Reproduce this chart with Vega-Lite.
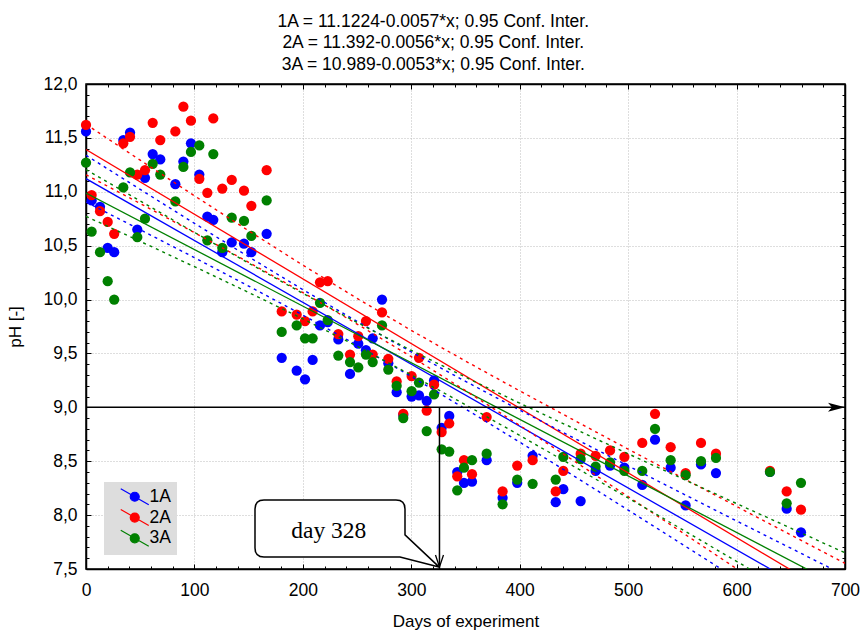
{
  "$schema": "https://vega.github.io/schema/vega-lite/v6.json",
  "width": 759,
  "height": 485,
  "autosize": {"type": "none"},
  "padding": {"left": 86, "top": 84, "right": 15, "bottom": 62},
  "background": "white",
  "config": {
    "view": {"stroke": "#000", "strokeWidth": 1.5},
    "font": "Liberation Sans",
    "axis": {
      "labelFont": "Liberation Sans", "labelFontSize": 17.5, "labelColor": "#000",
      "titleFont": "Liberation Sans", "titleFontSize": 17, "titleFontWeight": "normal", "titleColor": "#000",
      "domainColor": "#000", "domainWidth": 1.5, "tickColor": "#000", "tickWidth": 1,
      "gridColor": "#bdbdbd", "gridDash": [1, 2], "gridWidth": 1
    }
  },
  "title": {
    "text": ["1A = 11.1224-0.0057*x; 0.95 Conf. Inter.", "2A = 11.392-0.0056*x; 0.95 Conf. Inter.", "3A = 10.989-0.0053*x; 0.95 Conf. Inter."],
    "font": "Liberation Sans", "fontSize": 17.5, "fontWeight": "normal", "color": "#000",
    "anchor": "middle", "frame": "bounds", "lineHeight": 21.5, "offset": 2
  },
  "datasets": {
    "pts": [
      {"s":"1A","d":0,"p":11.56},{"s":"1A","d":5.2,"p":10.92},{"s":"1A","d":12.9,"p":10.86},{"s":"1A","d":20,"p":10.48},{"s":"1A","d":26,"p":10.44},
      {"s":"1A","d":34.4,"p":11.48},{"s":"1A","d":40.6,"p":11.55},{"s":"1A","d":47.3,"p":10.65},{"s":"1A","d":54.4,"p":11.13},{"s":"1A","d":61.5,"p":11.35},
      {"s":"1A","d":68.5,"p":11.30},{"s":"1A","d":82.4,"p":11.07},{"s":"1A","d":89.8,"p":11.28},{"s":"1A","d":96.8,"p":11.45},{"s":"1A","d":104.5,"p":11.16},
      {"s":"1A","d":111.9,"p":10.77},{"s":"1A","d":117.4,"p":10.74},{"s":"1A","d":125.7,"p":10.44},{"s":"1A","d":134.4,"p":10.53},{"s":"1A","d":145.7,"p":10.52},
      {"s":"1A","d":152.5,"p":10.44},{"s":"1A","d":166.6,"p":10.61},{"s":"1A","d":180.5,"p":9.46},{"s":"1A","d":194.3,"p":9.34},{"s":"1A","d":202,"p":9.26},
      {"s":"1A","d":209,"p":9.44},{"s":"1A","d":215.8,"p":9.76},{"s":"1A","d":222.9,"p":9.79},{"s":"1A","d":232.7,"p":9.63},{"s":"1A","d":243.5,"p":9.31},
      {"s":"1A","d":251.1,"p":9.59},{"s":"1A","d":258.2,"p":9.53},{"s":"1A","d":264.4,"p":9.64},{"s":"1A","d":273,"p":10.00},{"s":"1A","d":278.8,"p":9.41},
      {"s":"1A","d":286.5,"p":9.14},{"s":"1A","d":292.6,"p":8.93},{"s":"1A","d":300.3,"p":9.10},{"s":"1A","d":307.1,"p":9.11},{"s":"1A","d":314.2,"p":9.06},
      {"s":"1A","d":321,"p":9.25},{"s":"1A","d":328,"p":8.81},{"s":"1A","d":335,"p":8.92},{"s":"1A","d":342.4,"p":8.40},{"s":"1A","d":348.6,"p":8.30},
      {"s":"1A","d":356,"p":8.31},{"s":"1A","d":369.5,"p":8.51},{"s":"1A","d":384.2,"p":8.16},{"s":"1A","d":397.7,"p":8.30},{"s":"1A","d":411.9,"p":8.55},
      {"s":"1A","d":433.2,"p":8.12},{"s":"1A","d":440.2,"p":8.24},{"s":"1A","d":456.2,"p":8.13},{"s":"1A","d":470,"p":8.41},{"s":"1A","d":483.3,"p":8.46},
      {"s":"1A","d":496.5,"p":8.44},{"s":"1A","d":513,"p":8.28},{"s":"1A","d":524.8,"p":8.70},{"s":"1A","d":539.2,"p":8.44},{"s":"1A","d":553,"p":8.09},
      {"s":"1A","d":567.2,"p":8.47},{"s":"1A","d":581,"p":8.39},{"s":"1A","d":630.8,"p":8.40},{"s":"1A","d":646.2,"p":8.06},{"s":"1A","d":659.4,"p":7.84},
      {"s":"2A","d":0,"p":11.62},{"s":"2A","d":5.2,"p":10.97},{"s":"2A","d":12.9,"p":10.82},{"s":"2A","d":20,"p":10.72},{"s":"2A","d":26,"p":10.61},
      {"s":"2A","d":34.4,"p":11.45},{"s":"2A","d":40.6,"p":11.51},{"s":"2A","d":47.3,"p":11.16},{"s":"2A","d":54.4,"p":11.20},{"s":"2A","d":61.5,"p":11.64},
      {"s":"2A","d":68.5,"p":11.48},{"s":"2A","d":82.4,"p":11.56},{"s":"2A","d":89.8,"p":11.79},{"s":"2A","d":96.8,"p":11.66},{"s":"2A","d":104.5,"p":11.12},
      {"s":"2A","d":111.9,"p":10.99},{"s":"2A","d":117.4,"p":11.68},{"s":"2A","d":125.7,"p":11.03},{"s":"2A","d":134.4,"p":11.11},{"s":"2A","d":145.7,"p":11.01},
      {"s":"2A","d":152.5,"p":10.87},{"s":"2A","d":166.6,"p":11.20},{"s":"2A","d":180.5,"p":9.89},{"s":"2A","d":194.3,"p":9.86},{"s":"2A","d":202,"p":9.80},
      {"s":"2A","d":209,"p":9.89},{"s":"2A","d":215.8,"p":10.16},{"s":"2A","d":222.9,"p":10.17},{"s":"2A","d":232.7,"p":9.68},{"s":"2A","d":243.5,"p":9.49},
      {"s":"2A","d":251.1,"p":9.66},{"s":"2A","d":258.2,"p":9.80},{"s":"2A","d":264.4,"p":9.49},{"s":"2A","d":273,"p":9.88},{"s":"2A","d":278.8,"p":9.45},
      {"s":"2A","d":286.5,"p":9.24},{"s":"2A","d":292.6,"p":8.94},{"s":"2A","d":300.3,"p":9.29},{"s":"2A","d":307.1,"p":9.46},{"s":"2A","d":314.2,"p":8.97},
      {"s":"2A","d":321,"p":9.21},{"s":"2A","d":328,"p":8.77},{"s":"2A","d":335,"p":8.85},{"s":"2A","d":342.4,"p":8.36},{"s":"2A","d":348.6,"p":8.51},
      {"s":"2A","d":356,"p":8.38},{"s":"2A","d":369.5,"p":8.91},{"s":"2A","d":384.2,"p":8.22},{"s":"2A","d":397.7,"p":8.46},{"s":"2A","d":411.9,"p":8.51},
      {"s":"2A","d":433.2,"p":8.22},{"s":"2A","d":440.2,"p":8.41},{"s":"2A","d":456.2,"p":8.57},{"s":"2A","d":470,"p":8.55},{"s":"2A","d":483.3,"p":8.60},
      {"s":"2A","d":496.5,"p":8.54},{"s":"2A","d":513,"p":8.67},{"s":"2A","d":524.8,"p":8.94},{"s":"2A","d":539.2,"p":8.63},{"s":"2A","d":553,"p":8.39},
      {"s":"2A","d":567.2,"p":8.67},{"s":"2A","d":581,"p":8.57},{"s":"2A","d":630.8,"p":8.41},{"s":"2A","d":646.2,"p":8.22},{"s":"2A","d":659.4,"p":8.05},
      {"s":"3A","d":0,"p":11.27},{"s":"3A","d":5.2,"p":10.63},{"s":"3A","d":12.9,"p":10.44},{"s":"3A","d":20,"p":10.17},{"s":"3A","d":26,"p":10.00},
      {"s":"3A","d":34.4,"p":11.04},{"s":"3A","d":40.6,"p":11.18},{"s":"3A","d":47.3,"p":10.58},{"s":"3A","d":54.4,"p":10.75},{"s":"3A","d":61.5,"p":11.26},
      {"s":"3A","d":68.5,"p":11.16},{"s":"3A","d":82.4,"p":10.91},{"s":"3A","d":89.8,"p":11.23},{"s":"3A","d":96.8,"p":11.37},{"s":"3A","d":104.5,"p":11.43},
      {"s":"3A","d":111.9,"p":10.55},{"s":"3A","d":117.4,"p":11.35},{"s":"3A","d":125.7,"p":10.48},{"s":"3A","d":134.4,"p":10.76},{"s":"3A","d":145.7,"p":10.73},
      {"s":"3A","d":152.5,"p":10.59},{"s":"3A","d":166.6,"p":10.92},{"s":"3A","d":180.5,"p":9.70},{"s":"3A","d":194.3,"p":9.76},{"s":"3A","d":202,"p":9.64},
      {"s":"3A","d":209,"p":9.64},{"s":"3A","d":215.8,"p":9.97},{"s":"3A","d":222.9,"p":9.81},{"s":"3A","d":232.7,"p":9.48},{"s":"3A","d":243.5,"p":9.42},
      {"s":"3A","d":251.1,"p":9.37},{"s":"3A","d":258.2,"p":9.49},{"s":"3A","d":264.4,"p":9.42},{"s":"3A","d":273,"p":9.76},{"s":"3A","d":278.8,"p":9.35},
      {"s":"3A","d":286.5,"p":9.20},{"s":"3A","d":292.6,"p":8.90},{"s":"3A","d":300.3,"p":9.15},{"s":"3A","d":307.1,"p":9.23},{"s":"3A","d":314.2,"p":8.78},
      {"s":"3A","d":321,"p":9.12},{"s":"3A","d":328,"p":8.61},{"s":"3A","d":335,"p":8.59},{"s":"3A","d":342.4,"p":8.23},{"s":"3A","d":348.6,"p":8.44},
      {"s":"3A","d":356,"p":8.51},{"s":"3A","d":369.5,"p":8.57},{"s":"3A","d":384.2,"p":8.10},{"s":"3A","d":397.7,"p":8.33},{"s":"3A","d":411.9,"p":8.29},
      {"s":"3A","d":433.2,"p":8.33},{"s":"3A","d":440.2,"p":8.54},{"s":"3A","d":456.2,"p":8.52},{"s":"3A","d":470,"p":8.45},{"s":"3A","d":483.3,"p":8.49},
      {"s":"3A","d":496.5,"p":8.41},{"s":"3A","d":513,"p":8.41},{"s":"3A","d":524.8,"p":8.80},{"s":"3A","d":539.2,"p":8.51},{"s":"3A","d":553,"p":8.37},
      {"s":"3A","d":567.2,"p":8.50},{"s":"3A","d":581,"p":8.53},{"s":"3A","d":630.8,"p":8.40},{"s":"3A","d":646.2,"p":8.11},{"s":"3A","d":659.4,"p":8.30}
    ],
    "fit": [
      {"s":"1A","d":0,"p":11.122},{"s":"1A","d":700,"p":7.104},
      {"s":"2A","d":0,"p":11.392},{"s":"2A","d":700,"p":7.192},
      {"s":"3A","d":0,"p":10.989},{"s":"3A","d":700,"p":7.314}
    ],
    "ci": [
      {"s":"1A","k":"u","d":0,"p":11.339},{"s":"1A","k":"u","d":50,"p":11.022},{"s":"1A","k":"u","d":100,"p":10.707},{"s":"1A","k":"u","d":150,"p":10.397},{"s":"1A","k":"u","d":200,"p":10.092},{"s":"1A","k":"u","d":250,"p":9.797},{"s":"1A","k":"u","d":300,"p":9.514},{"s":"1A","k":"u","d":350,"p":9.241},{"s":"1A","k":"u","d":400,"p":8.975},{"s":"1A","k":"u","d":450,"p":8.715},{"s":"1A","k":"u","d":500,"p":8.457},{"s":"1A","k":"u","d":550,"p":8.201},{"s":"1A","k":"u","d":600,"p":7.946},{"s":"1A","k":"u","d":650,"p":7.693},{"s":"1A","k":"u","d":700,"p":7.440},
      {"s":"1A","k":"l","d":0,"p":10.905},{"s":"1A","k":"l","d":50,"p":10.648},{"s":"1A","k":"l","d":100,"p":10.389},{"s":"1A","k":"l","d":150,"p":10.125},{"s":"1A","k":"l","d":200,"p":9.856},{"s":"1A","k":"l","d":250,"p":9.577},{"s":"1A","k":"l","d":300,"p":9.286},{"s":"1A","k":"l","d":350,"p":8.985},{"s":"1A","k":"l","d":400,"p":8.677},{"s":"1A","k":"l","d":450,"p":8.363},{"s":"1A","k":"l","d":500,"p":8.047},{"s":"1A","k":"l","d":550,"p":7.729},{"s":"1A","k":"l","d":600,"p":7.410},{"s":"1A","k":"l","d":650,"p":7.089},{"s":"1A","k":"l","d":700,"p":6.768},
      {"s":"2A","k":"u","d":0,"p":11.626},{"s":"2A","k":"u","d":50,"p":11.293},{"s":"2A","k":"u","d":100,"p":10.963},{"s":"2A","k":"u","d":150,"p":10.638},{"s":"2A","k":"u","d":200,"p":10.319},{"s":"2A","k":"u","d":250,"p":10.011},{"s":"2A","k":"u","d":300,"p":9.714},{"s":"2A","k":"u","d":350,"p":9.429},{"s":"2A","k":"u","d":400,"p":9.153},{"s":"2A","k":"u","d":450,"p":8.881},{"s":"2A","k":"u","d":500,"p":8.612},{"s":"2A","k":"u","d":550,"p":8.346},{"s":"2A","k":"u","d":600,"p":8.081},{"s":"2A","k":"u","d":650,"p":7.816},{"s":"2A","k":"u","d":700,"p":7.553},
      {"s":"2A","k":"l","d":0,"p":11.158},{"s":"2A","k":"l","d":50,"p":10.891},{"s":"2A","k":"l","d":100,"p":10.621},{"s":"2A","k":"l","d":150,"p":10.346},{"s":"2A","k":"l","d":200,"p":10.065},{"s":"2A","k":"l","d":250,"p":9.773},{"s":"2A","k":"l","d":300,"p":9.470},{"s":"2A","k":"l","d":350,"p":9.155},{"s":"2A","k":"l","d":400,"p":8.832},{"s":"2A","k":"l","d":450,"p":8.503},{"s":"2A","k":"l","d":500,"p":8.172},{"s":"2A","k":"l","d":550,"p":7.838},{"s":"2A","k":"l","d":600,"p":7.503},{"s":"2A","k":"l","d":650,"p":7.168},{"s":"2A","k":"l","d":700,"p":6.831},
      {"s":"3A","k":"u","d":0,"p":11.206},{"s":"3A","k":"u","d":50,"p":10.914},{"s":"3A","k":"u","d":100,"p":10.623},{"s":"3A","k":"u","d":150,"p":10.338},{"s":"3A","k":"u","d":200,"p":10.057},{"s":"3A","k":"u","d":250,"p":9.787},{"s":"3A","k":"u","d":300,"p":9.528},{"s":"3A","k":"u","d":350,"p":9.280},{"s":"3A","k":"u","d":400,"p":9.038},{"s":"3A","k":"u","d":450,"p":8.803},{"s":"3A","k":"u","d":500,"p":8.569},{"s":"3A","k":"u","d":550,"p":8.338},{"s":"3A","k":"u","d":600,"p":8.107},{"s":"3A","k":"u","d":650,"p":7.879},{"s":"3A","k":"u","d":700,"p":7.650},
      {"s":"3A","k":"l","d":0,"p":10.772},{"s":"3A","k":"l","d":50,"p":10.540},{"s":"3A","k":"l","d":100,"p":10.305},{"s":"3A","k":"l","d":150,"p":10.066},{"s":"3A","k":"l","d":200,"p":9.821},{"s":"3A","k":"l","d":250,"p":9.567},{"s":"3A","k":"l","d":300,"p":9.300},{"s":"3A","k":"l","d":350,"p":9.024},{"s":"3A","k":"l","d":400,"p":8.740},{"s":"3A","k":"l","d":450,"p":8.451},{"s":"3A","k":"l","d":500,"p":8.159},{"s":"3A","k":"l","d":550,"p":7.866},{"s":"3A","k":"l","d":600,"p":7.571},{"s":"3A","k":"l","d":650,"p":7.275},{"s":"3A","k":"l","d":700,"p":6.978}
    ]
  },
  "resolve": {"axis": {"x": "independent", "y": "independent"}},
  "layer": [
    {
      "data": {"name": "pts"},
      "mark": {"type": "circle", "size": 105, "opacity": 1},
      "encoding": {
        "x": {"field": "d", "type": "quantitative", "scale": {"domain": [0, 700], "nice": false, "zero": false},
          "axis": {"orient": "bottom", "values": [0,100,200,300,400,500,600,700], "grid": true, "tickSize": -5, "labelPadding": 17, "labelFlush": false, "labelOverlap": false, "title": "Days of experiment", "titlePadding": 15}},
        "y": {"field": "p", "type": "quantitative", "scale": {"domain": [7.5, 12], "nice": false, "zero": false},
          "axis": {"orient": "left", "values": [7.5,8,8.5,9,9.5,10,10.5,11,11.5,12], "grid": true, "tickSize": -5, "labelPadding": 14, "labelFlush": false, "labelOverlap": false, "labelExpr": "replace(format(datum.value, '.1f'), '.', ',')", "title": "pH [-]", "titlePadding": 18}},
        "color": {"field": "s", "type": "nominal",
          "scale": {"domain": ["1A", "2A", "3A"], "range": ["#0000ff", "#ff0000", "#008000"]},
          "legend": {"orient": "none", "legendX": 18, "legendY": 398, "title": null, "fillColor": "#dddddd", "padding": 6,
            "symbolType": "M-14,-8L14,8M4.5,0A4.5,4.5,0,1,1,-4.5,0A4.5,4.5,0,1,1,4.5,0Z", "symbolSize": 4, "symbolOffset": 16, "symbolStrokeWidth": 1.2,
            "labelOffset": 6, "labelFontSize": 17.5, "labelFont": "Liberation Sans", "labelColor": "#000", "rowPadding": -1.2,
            "encode": {"symbols": {"update": {"fill": {"scale": "color", "field": "value"}, "stroke": {"scale": "color", "field": "value"}, "opacity": {"value": 1}}}}}}
      }
    },
    {
      "data": {"name": "fit"},
      "mark": {"type": "line", "strokeWidth": 1.3, "clip": true},
      "encoding": {
        "x": {"field": "d", "type": "quantitative",
          "axis": {"orient": "bottom", "values": [20,40,60,80,120,140,160,180,220,240,260,280,320,340,360,380,420,440,460,480,520,540,560,580,620,640,660,680], "grid": false, "labels": false, "domain": false, "tickSize": -3, "title": null}},
        "y": {"field": "p", "type": "quantitative",
          "axis": {"orient": "left", "values": [7.6,7.7,7.8,7.9,8.1,8.2,8.3,8.4,8.6,8.7,8.8,8.9,9.1,9.2,9.3,9.4,9.6,9.7,9.8,9.9,10.1,10.2,10.3,10.4,10.6,10.7,10.8,10.9,11.1,11.2,11.3,11.4,11.6,11.7,11.8,11.9], "grid": false, "labels": false, "domain": false, "tickSize": -3, "title": null}},
        "color": {"field": "s", "type": "nominal", "legend": null}
      }
    },
    {
      "data": {"name": "ci"},
      "mark": {"type": "line", "strokeWidth": 1.4, "strokeDash": [3, 4], "clip": true},
      "encoding": {
        "x": {"field": "d", "type": "quantitative",
          "axis": {"orient": "top", "values": [0,100,200,300,400,500,600,700], "grid": false, "labels": false, "domain": true, "tickSize": -5, "title": null}},
        "y": {"field": "p", "type": "quantitative",
          "axis": {"orient": "right", "values": [7.5,8,8.5,9,9.5,10,10.5,11,11.5,12], "grid": false, "labels": false, "domain": true, "tickSize": -5, "title": null}},
        "color": {"field": "s", "type": "nominal", "legend": null},
        "detail": {"field": "k"}
      }
    },
    {
      "data": {"values": [{}]},
      "mark": {"type": "rule", "strokeWidth": 1.5, "color": "#000"},
      "encoding": {
        "x": {"datum": 0, "type": "quantitative",
          "axis": {"orient": "top", "values": [20,40,60,80,120,140,160,180,220,240,260,280,320,340,360,380,420,440,460,480,520,540,560,580,620,640,660,680], "grid": false, "labels": false, "domain": false, "tickSize": -3, "title": null}},
        "x2": {"datum": 700},
        "y": {"datum": 9, "type": "quantitative",
          "axis": {"orient": "right", "values": [7.6,7.7,7.8,7.9,8.1,8.2,8.3,8.4,8.6,8.7,8.8,8.9,9.1,9.2,9.3,9.4,9.6,9.7,9.8,9.9,10.1,10.2,10.3,10.4,10.6,10.7,10.8,10.9,11.1,11.2,11.3,11.4,11.6,11.7,11.8,11.9], "grid": false, "labels": false, "domain": false, "tickSize": -3, "title": null}}
      }
    },
    {
      "data": {"values": [{}]},
      "mark": {"type": "point", "shape": "M0,0L-17,-4.5L-13,0L-17,4.5Z", "size": 4, "filled": true, "color": "#000", "opacity": 1, "strokeWidth": 0},
      "encoding": {
        "x": {"datum": 700, "type": "quantitative", "axis": null},
        "y": {"datum": 9, "type": "quantitative", "axis": null}
      }
    },
    {
      "data": {"values": [{}]},
      "mark": {"type": "rule", "strokeWidth": 1.5, "color": "#000"},
      "encoding": {
        "x": {"datum": 326, "type": "quantitative", "axis": null},
        "y": {"datum": 9, "type": "quantitative", "axis": null},
        "y2": {"datum": 7.5}
      }
    },
    {
      "data": {"values": [{}]},
      "mark": {"type": "point", "shape": "M-66,-28.5L66,-28.5Q75,-28.5,75,-19.5L75,6.5L109,38.5L70,28.5L-66,28.5Q-75,28.5,-75,19.5L-75,-19.5Q-75,-28.5,-66,-28.5Z", "size": 4, "filled": true, "fill": "#ffffff", "stroke": "#000", "strokeWidth": 1.5, "opacity": 1},
      "encoding": {
        "x": {"datum": 225.03, "type": "quantitative", "axis": null},
        "y": {"datum": 7.8766, "type": "quantitative", "axis": null}
      }
    },
    {
      "data": {"values": [{}]},
      "mark": {"type": "point", "shape": "M-4,-14L0,-2L4,-14", "size": 4, "filled": false, "stroke": "#000", "strokeWidth": 1.3, "opacity": 1},
      "encoding": {
        "x": {"datum": 326, "type": "quantitative", "axis": null},
        "y": {"datum": 7.5, "type": "quantitative", "axis": null}
      }
    },
    {
      "data": {"values": [{}]},
      "mark": {"type": "text", "text": "day 328", "font": "Liberation Serif", "fontSize": 23.5, "align": "center", "baseline": "middle", "color": "#000"},
      "encoding": {
        "x": {"datum": 223.9, "type": "quantitative", "axis": null},
        "y": {"datum": 7.853, "type": "quantitative", "axis": null}
      }
    }
  ]
}
